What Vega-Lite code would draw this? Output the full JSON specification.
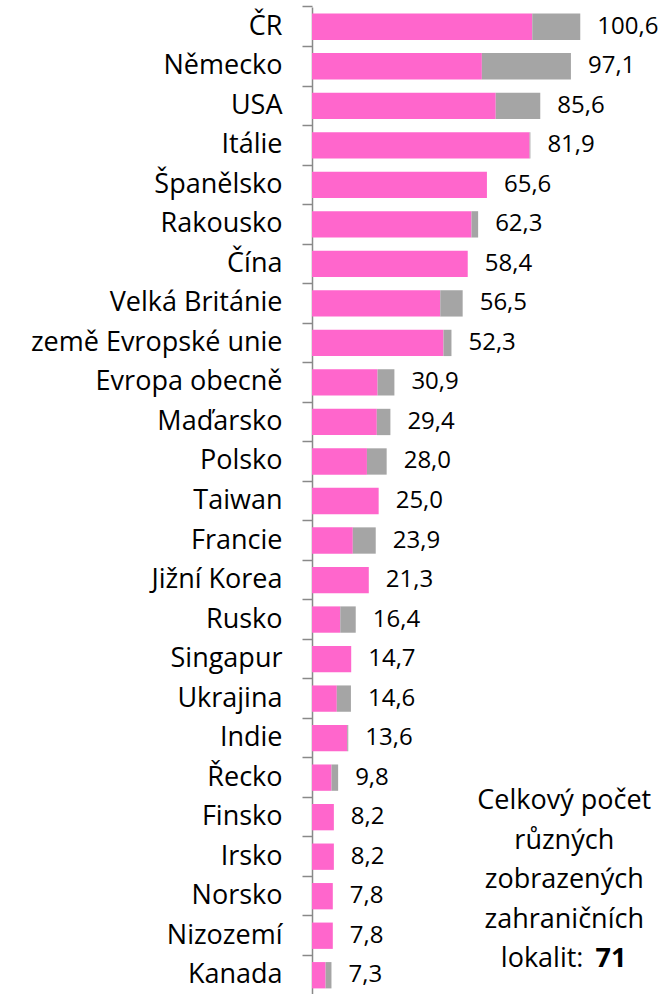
{
  "$schema": "https://vega.github.io/schema/vega-lite/v6.json",
  "autosize": "none",
  "width": 348,
  "height": 988,
  "padding": {"left": 312, "top": 7, "right": 0, "bottom": 0},
  "background": "white",
  "config": {
    "view": {"stroke": null},
    "font": "Open Sans",
    "locale": {"number": {"decimal": ",", "thousands": " ", "grouping": [3], "currency": ["", " Kč"]}}
  },
  "datasets": {
    "countries": [
      {"country": "ČR", "pink": 82.6, "gray": 18.0, "total": 100.6},
      {"country": "Německo", "pink": 63.7, "gray": 33.4, "total": 97.1},
      {"country": "USA", "pink": 68.9, "gray": 16.7, "total": 85.6},
      {"country": "Itálie", "pink": 81.6, "gray": 0.3, "total": 81.9},
      {"country": "Španělsko", "pink": 65.6, "gray": 0.0, "total": 65.6},
      {"country": "Rakousko", "pink": 59.8, "gray": 2.5, "total": 62.3},
      {"country": "Čína", "pink": 58.4, "gray": 0.0, "total": 58.4},
      {"country": "Velká Británie", "pink": 48.1, "gray": 8.4, "total": 56.5},
      {"country": "země Evropské unie", "pink": 49.3, "gray": 3.0, "total": 52.3},
      {"country": "Evropa obecně", "pink": 24.6, "gray": 6.3, "total": 30.9},
      {"country": "Maďarsko", "pink": 24.3, "gray": 5.1, "total": 29.4},
      {"country": "Polsko", "pink": 20.6, "gray": 7.4, "total": 28.0},
      {"country": "Taiwan", "pink": 25.0, "gray": 0.0, "total": 25.0},
      {"country": "Francie", "pink": 15.3, "gray": 8.6, "total": 23.9},
      {"country": "Jižní Korea", "pink": 21.3, "gray": 0.0, "total": 21.3},
      {"country": "Rusko", "pink": 10.6, "gray": 5.8, "total": 16.4},
      {"country": "Singapur", "pink": 14.7, "gray": 0.0, "total": 14.7},
      {"country": "Ukrajina", "pink": 9.3, "gray": 5.3, "total": 14.6},
      {"country": "Indie", "pink": 13.2, "gray": 0.4, "total": 13.6},
      {"country": "Řecko", "pink": 7.3, "gray": 2.5, "total": 9.8},
      {"country": "Finsko", "pink": 8.2, "gray": 0.0, "total": 8.2},
      {"country": "Irsko", "pink": 8.2, "gray": 0.0, "total": 8.2},
      {"country": "Norsko", "pink": 7.8, "gray": 0.0, "total": 7.8},
      {"country": "Nizozemí", "pink": 7.8, "gray": 0.0, "total": 7.8},
      {"country": "Kanada", "pink": 5.1, "gray": 2.2, "total": 7.3}
    ],
    "note": [
      {"line": "Celkový počet", "row": "Finsko"},
      {"line": "různých", "row": "Irsko"},
      {"line": "zobrazených", "row": "Norsko"},
      {"line": "zahraničních", "row": "Nizozemí"}
    ],
    "one": [{"row": "Kanada"}]
  },
  "layer": [
    {
      "data": {"name": "countries"},
      "transform": [{"fold": ["pink", "gray"], "as": ["part", "val"]}],
      "mark": {"type": "bar", "height": {"band": 0.666}},
      "encoding": {
        "y": {
          "field": "country", "type": "nominal",
          "sort": ["ČR", "Německo", "USA", "Itálie", "Španělsko", "Rakousko", "Čína", "Velká Británie", "země Evropské unie", "Evropa obecně", "Maďarsko", "Polsko", "Taiwan", "Francie", "Jižní Korea", "Rusko", "Singapur", "Ukrajina", "Indie", "Řecko", "Finsko", "Irsko", "Norsko", "Nizozemí", "Kanada"],
          "scale": {"domain": ["ČR", "Německo", "USA", "Itálie", "Španělsko", "Rakousko", "Čína", "Velká Británie", "země Evropské unie", "Evropa obecně", "Maďarsko", "Polsko", "Taiwan", "Francie", "Jižní Korea", "Rusko", "Singapur", "Ukrajina", "Indie", "Řecko", "Finsko", "Irsko", "Norsko", "Nizozemí", "Kanada"], "paddingInner": 0, "paddingOuter": 0},
          "axis": {
            "title": null, "orient": "left", "bandPosition": 0,
            "domainColor": "#898989", "domainWidth": 1.5,
            "tickColor": "#898989", "tickWidth": 1.5, "tickSize": 10,
            "labelPadding": 20, "labelFontSize": 27, "labelFont": "Open Sans",
            "labelColor": "#000000", "labelLimit": 400
          }
        },
        "x": {
          "field": "val", "type": "quantitative", "stack": "zero",
          "scale": {"domain": [0, 130.5], "nice": false, "zero": true},
          "axis": null
        },
        "color": {
          "field": "part", "type": "nominal",
          "scale": {"domain": ["pink", "gray"], "range": ["#FF66CC", "#A5A5A5"]},
          "legend": null
        },
        "order": {"field": "part", "sort": "descending"}
      }
    },
    {
      "data": {"name": "countries"},
      "mark": {"type": "text", "align": "left", "baseline": "middle", "dx": 17, "fontSize": 24, "font": "Open Sans", "color": "#000000"},
      "encoding": {
        "y": {"field": "country", "type": "nominal", "sort": null},
        "x": {"field": "total", "type": "quantitative"},
        "text": {"field": "total", "type": "quantitative", "format": ".1f"}
      }
    },
    {
      "data": {"name": "note"},
      "mark": {"type": "text", "align": "center", "baseline": "middle", "dy": 4, "fontSize": 27, "font": "Open Sans", "color": "#000000"},
      "encoding": {
        "y": {"field": "row", "type": "nominal", "sort": null, "bandPosition": 0},
        "x": {"datum": 94.6, "type": "quantitative"},
        "text": {"field": "line"}
      }
    },
    {
      "data": {"name": "one"},
      "mark": {"type": "text", "align": "right", "baseline": "middle", "dy": 4, "fontSize": 27, "font": "Open Sans", "color": "#000000", "text": "lokalit:"},
      "encoding": {
        "y": {"field": "row", "type": "nominal", "sort": null, "bandPosition": 0},
        "x": {"datum": 101.8, "type": "quantitative"}
      }
    },
    {
      "data": {"name": "one"},
      "mark": {"type": "text", "align": "left", "baseline": "middle", "dy": 4, "fontSize": 27, "font": "Open Sans", "fontWeight": "bold", "color": "#000000", "text": "71"},
      "encoding": {
        "y": {"field": "row", "type": "nominal", "sort": null, "bandPosition": 0},
        "x": {"datum": 106.3, "type": "quantitative"}
      }
    }
  ]
}
